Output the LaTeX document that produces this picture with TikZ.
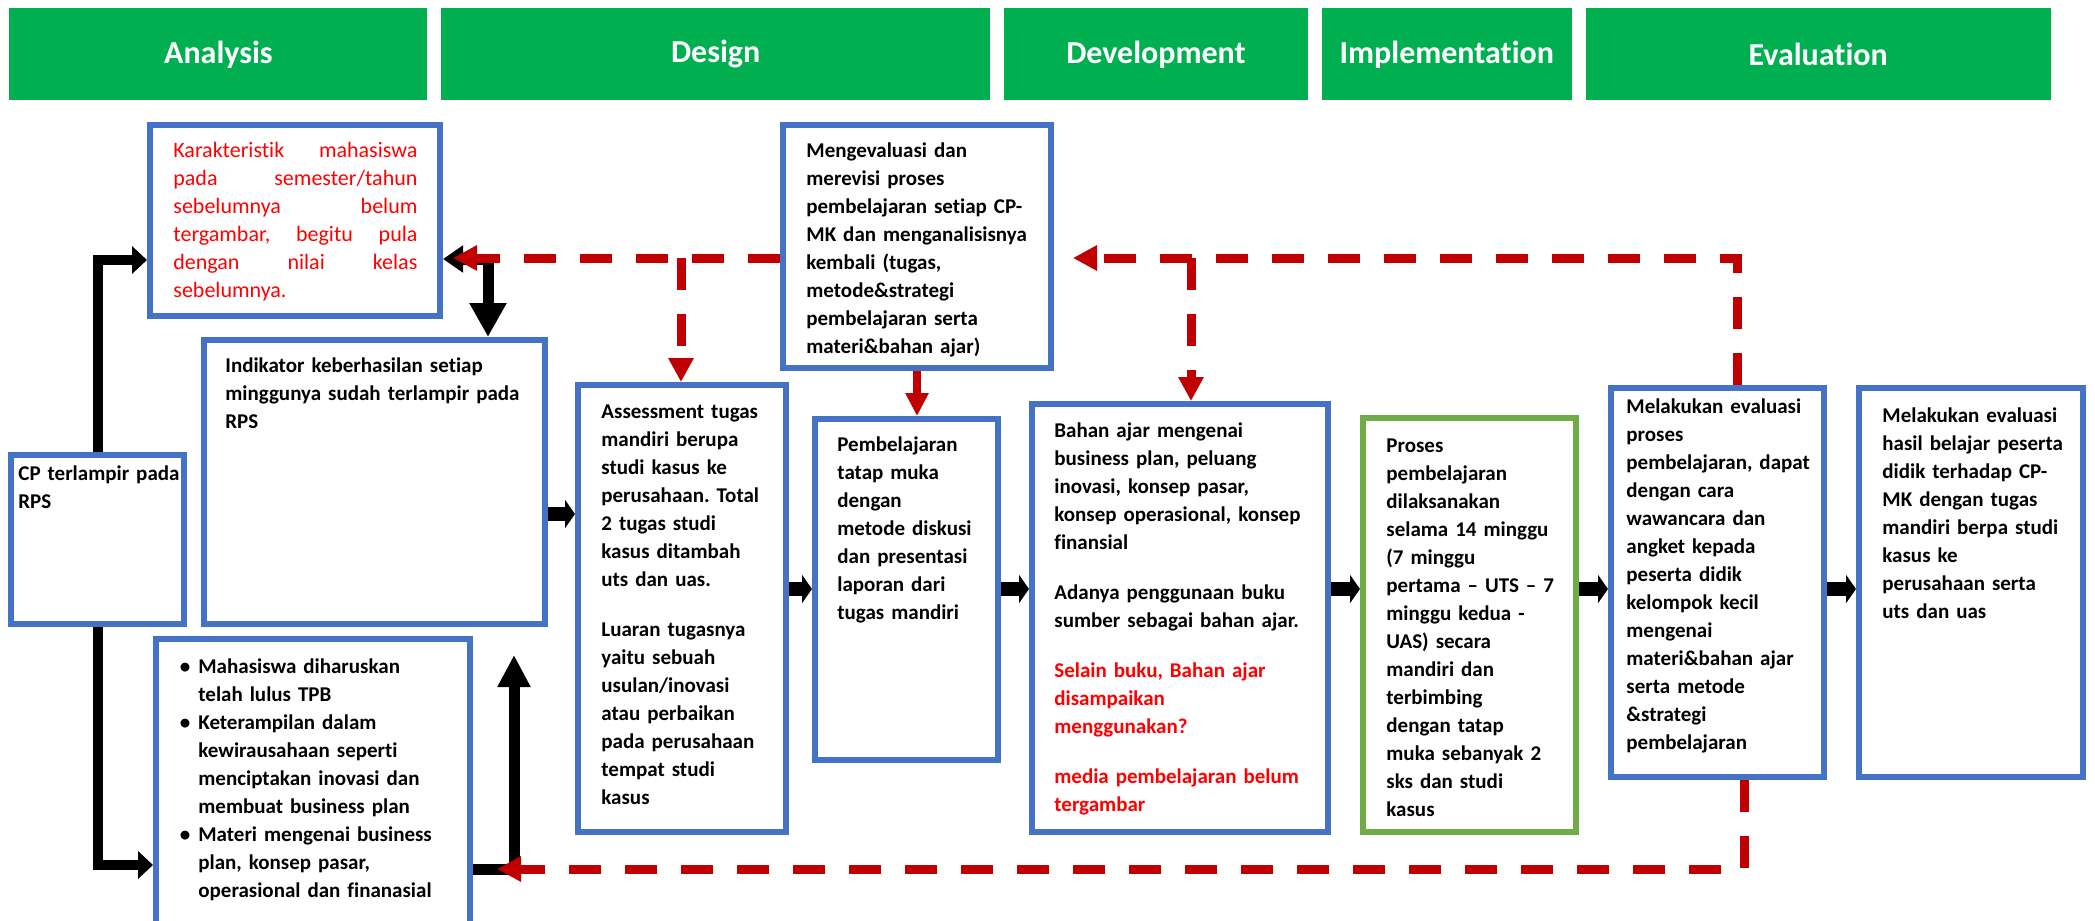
\documentclass[tikz,border=0pt]{standalone}
\usepackage{fontspec}
\setmainfont{Carlito}[Ligatures={TeX,NoCommon,NoContextual,NoRequired}, Contextuals=NoAlternate]
\usetikzlibrary{positioning,arrows.meta}
\definecolor{hdrgreen}{HTML}{00B050}
\definecolor{boxblue}{HTML}{4472C4}
\definecolor{boxgreen}{HTML}{70AD47}
\definecolor{fbred}{HTML}{C00000}
\definecolor{txtred}{HTML}{FF0000}
\frenchspacing

\begin{document}
\begin{tikzpicture}[x=0.5pt, y=-0.5pt,
  phase/.style={fill=hdrgreen, text=white, minimum height=46pt, inner sep=0pt, font=\fontsize{16}{19}\selectfont\bfseries},
  box/.style={draw=boxblue, line width=3pt, fill=white, inner sep=0pt, anchor=north west},
  txt/.style={anchor=north west, inner sep=0pt, align=left, font=\fontsize{10.5}{14}\selectfont\bfseries, execute at begin node=\strut},
  flow/.style={line width=7pt, -{Triangle[length=5pt, width=14pt]}},
  link/.style={line width=5pt, -{Triangle[length=7.5pt, width=13.5pt]}},
  back/.style={draw=fbred, line width=4.5pt, dash pattern=on 16pt off 12pt, -{Triangle[length=12pt, width=12pt]}}]
  \clip (0,0) rectangle (2095,921);
  \fill[white] (0,0) rectangle (2095,921);

  % phases
  \node[phase, minimum width=209pt, anchor=north west] (ana) at (9,8) {Analysis};
  \node[phase, minimum width=274.5pt, right=6.5pt of ana] (des) {Design};
  \node[phase, minimum width=152pt, right=6.5pt of des] (dev) {Development};
  \node[phase, minimum width=125pt, right=6.5pt of dev] (imp) {Implementation};
  \node[phase, minimum width=232.5pt, right=6.5pt of imp] (eva) {Evaluation};

  % analysis
  \node[box, minimum width=86.5pt, minimum height=84.5pt] (cp) at (8,452) {};
  \node[txt, text width=85pt] (cp-t) at (18,460.4) {CP terlampir pada\\ RPS};
  \node[box, minimum width=145pt, minimum height=95.5pt] (kar) at (147,122) {};
  \node[txt, text width=122pt, text=txtred, font=\fontsize{11}{14}\selectfont] (kar-t) at (173,137.4) {Karakteristik\hfill mahasiswa\\ pada\hfill semester/tahun\\ sebelumnya\hfill belum\\ tergambar,\hfill begitu\hfill pula\\ dengan\hfill nilai\hfill kelas\\ sebelumnya.};
  \node[box, minimum width=170.5pt, minimum height=142pt] (ind) at (201,337) {};
  \node[txt, text width=155pt] (ind-t) at (225,352.4) {Indikator keberhasilan setiap\\ minggunya sudah terlampir pada\\ RPS};
  \node[box, minimum width=157pt, minimum height=160pt] (req) at (153,636) {};
  \node[txt, text width=130pt] (req-t) at (198,653.4) {\llap{\textbullet\hspace{4pt}}Mahasiswa diharuskan\\ telah lulus TPB\\ \leavevmode\llap{\textbullet\hspace{4pt}}Keterampilan dalam\\ kewirausahaan seperti\\ menciptakan inovasi dan\\ membuat business plan\\ \leavevmode\llap{\textbullet\hspace{4pt}}Materi mengenai business\\ plan, konsep pasar,\\ operasional dan finanasial};

  % design
  \node[box, minimum width=104pt, minimum height=223.5pt] (asm) at (575,382) {};
  \node[txt, text width=90pt] (asm-t) at (601,398.4) {Assessment tugas\\ mandiri berupa\\ studi kasus ke\\ perusahaan. Total\\ 2 tugas studi\\ kasus ditambah\\ uts dan uas.\\[11pt] Luaran tugasnya\\ yaitu sebuah\\ usulan/inovasi\\ atau perbaikan\\ pada perusahaan\\ tempat studi\\ kasus};
  \node[box, minimum width=134pt, minimum height=121.5pt] (rev) at (780,122) {};
  \node[txt, text width=120pt] (rev-t) at (806,137.4) {Mengevaluasi dan\\ merevisi proses\\ pembelajaran setiap CP-\\ MK dan menganalisisnya\\ kembali (tugas,\\ metode\&strategi\\ pembelajaran serta\\ materi\&bahan ajar)};
  \node[box, minimum width=91.5pt, minimum height=170.5pt] (tatap) at (812,416) {};
  \node[txt, text width=80pt] (tatap-t) at (837,431.4) {Pembelajaran\\ tatap muka\\ dengan\\ metode diskusi\\ dan presentasi\\ laporan dari\\ tugas mandiri};

  % development
  \node[box, minimum width=148pt, minimum height=214pt] (bahan) at (1029,401) {};
  \node[txt, text width=135pt] (bahan-t) at (1054,417.4) {Bahan ajar mengenai\\ business plan, peluang\\ inovasi, konsep pasar,\\ konsep operasional, konsep\\ finansial\\[11pt] Adanya penggunaan buku\\ sumber sebagai bahan ajar.\\[11pt] \color{txtred}Selain buku, Bahan ajar\\ disampaikan\\ menggunakan?\\[11pt] media pembelajaran belum\\ tergambar};

  % implementation
  \node[box, draw=boxgreen, minimum width=106.5pt, minimum height=207pt] (proses) at (1360,415) {};
  \node[txt, text width=95pt] (proses-t) at (1386,432.4) {Proses\\ pembelajaran\\ dilaksanakan\\ selama 14 minggu\\ (7 minggu\\ pertama – UTS – 7\\ minggu kedua -\\ UAS) secara\\ mandiri dan\\ terbimbing\\ dengan tatap\\ muka sebanyak 2\\ sks dan studi\\ kasus};

  % evaluation
  \node[box, minimum width=106.5pt, minimum height=194.5pt] (evp) at (1608,385) {};
  \node[txt, text width=100pt] (evp-t) at (1626,393.4) {Melakukan evaluasi\\ proses\\ pembelajaran, dapat\\ dengan cara\\ wawancara dan\\ angket kepada\\ peserta didik\\ kelompok kecil\\ mengenai\\ materi\&bahan ajar\\ serta metode\\ \&strategi\\ pembelajaran};
  \node[box, minimum width=112pt, minimum height=194.5pt] (evh) at (1856,385) {};
  \node[txt, text width=100pt] (evh-t) at (1882,402.4) {Melakukan evaluasi\\ hasil belajar peserta\\ didik terhadap CP-\\ MK dengan tugas\\ mandiri berpa studi\\ kasus ke\\ perusahaan serta\\ uts dan uas};

  \coordinate (fb) at (0,258);
  \coordinate (fb2) at (0,869);
  \coordinate (mid) at (0,589);
  \coordinate (fbl) at (681,258);
  \coordinate (fbm) at (1191,258);
  \coordinate (fbr) at (1737,258);
  \coordinate (fbb) at (1744,869);
  \coordinate (dn) at (488,259);
  \coordinate (up) at (514,655);

  % black links
  \draw[link] (cp.north) |- (kar.west |- 0,260);
  \draw[link] (cp.south) |- (req.west |- 0,865);
  \draw[line width=5.5pt, {Triangle[length=10pt, width=13pt]}-{Triangle[length=17pt, width=17.5pt]}] (kar.east |- dn) -| (ind.north -| dn);
  \draw[line width=5.5pt, -{Triangle[length=16pt, width=15.5pt]}] (req.east |- fb2) -| (up);
  \path (ind.east |- 0,514) edge[flow] (asm.west |- 0,514);
  \path (asm.east |- mid) edge[flow] (tatap.west |- mid);
  \path (tatap.east |- mid) edge[flow] (bahan.west |- mid);
  \path (bahan.east |- mid) edge[flow] (proses.west |- mid);
  \path (proses.east |- mid) edge[flow] (evp.west |- mid);
  \path (evp.east |- mid) edge[flow] (evh.west |- mid);

  % feedback
  \draw[back, shorten >=5pt] (rev.west |- fb) -- (kar.east |- fb);
  \draw[back] (fbl) -- (asm.north -| fbl);
  \draw[back] (fbm) -- (bahan.north -| fbm);
  \draw[back, shorten >=9.5pt] (evp.north -| fbr) -- (fbr) -- (rev.east |- fbr);
  \draw[back, shorten >=12pt] (evp.south -| fbb) -- (fbb) -- (req.east |- fbb);
  \draw[fbred, line width=4pt, -{Triangle[length=11.5pt, width=11pt]}] (rev.south) -- (rev.south |- tatap.north);
\end{tikzpicture}
\end{document}
